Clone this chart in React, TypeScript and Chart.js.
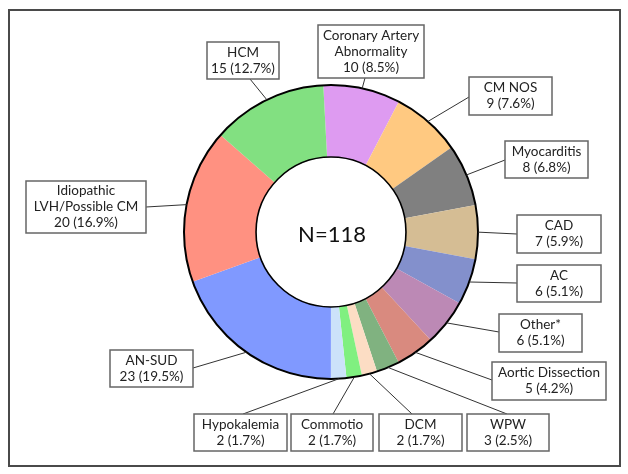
import React, { useEffect, useRef } from "react";
import { Chart, registerables } from "chart.js";

Chart.register(...registerables);

// ---- data ----
const categories: string[] = [
  "Coronary Artery\nAbnormality",
  "CM NOS",
  "Myocarditis",
  "CAD",
  "AC",
  "Other*",
  "Aortic Dissection",
  "WPW",
  "DCM",
  "Commotio",
  "Hypokalemia",
  "AN-SUD",
  "Idiopathic\nLVH/Possible CM",
  "HCM",
];
const counts: number[] = [10, 9, 8, 7, 6, 6, 5, 3, 2, 2, 2, 23, 20, 15];
const centerLabel = "N=118";

// ---- styles / layout ----
const colors: string[] = [
  "#DE9BF1",
  "#FFC981",
  "#808080",
  "#D5BD94",
  "#8390CC",
  "#BC89B5",
  "#D98A7F",
  "#80B280",
  "#FCDDC4",
  "#80F080",
  "#CCE2FA",
  "#8099FF",
  "#FF9181",
  "#82E081",
];
// label boxes: [x, y, w, h, anchorX, anchorY]
const boxes: number[][] = [
  [318, 25, 106, 53, 365, 78],
  [469, 77, 83, 38, 469, 97],
  [505, 141, 83, 37, 505, 160],
  [517, 215, 84, 38, 517, 234],
  [517, 265, 84, 37, 517, 283],
  [499, 314, 83, 38, 499, 332],
  [492, 362, 114, 38, 492, 380],
  [467, 414, 82, 37, 507, 414],
  [379, 414, 83, 37, 412, 414],
  [291, 414, 82, 37, 333, 414],
  [194, 414, 93, 37, 243, 414],
  [110, 350, 83, 37, 193, 368],
  [26, 181, 120, 52, 146, 207],
  [207, 42, 72, 37, 250, 79],
];

const FONT = "Lato, 'Noto Sans', sans-serif";

export default function App() {
  const ref = useRef<HTMLCanvasElement | null>(null);

  useEffect(() => {
    document.body.style.margin = "0";
    const canvas = ref.current;
    if (!canvas) return;
    const total = counts.reduce((a, b) => a + b, 0);

    const overlay = {
      id: "overlay",
      beforeDraw(chart: any) {
        const ctx = chart.ctx;
        ctx.save();
        ctx.fillStyle = "#ffffff";
        ctx.fillRect(0, 0, chart.width, chart.height);
        ctx.restore();
      },
      afterDatasetsDraw(chart: any) {
        const ctx = chart.ctx;
        const meta = chart.getDatasetMeta(0);
        const arcs = meta.data;
        if (!arcs.length) return;
        const a0 = arcs[0].getProps(["x", "y", "outerRadius", "innerRadius"], true);
        ctx.save();
        // outer & inner rings
        ctx.strokeStyle = "#000";
        ctx.lineWidth = 2;
        ctx.beginPath();
        ctx.arc(a0.x, a0.y, a0.outerRadius, 0, Math.PI * 2);
        ctx.stroke();
        ctx.lineWidth = 1.6;
        ctx.beginPath();
        ctx.arc(a0.x, a0.y, a0.innerRadius, 0, Math.PI * 2);
        ctx.stroke();

        // center text
        ctx.fillStyle = "#111";
        ctx.font = `22px ${FONT}`;
        ctx.textAlign = "center";
        ctx.textBaseline = "middle";
        ctx.fillText(centerLabel, a0.x + 1, a0.y + 3);

        // leaders
        ctx.strokeStyle = "#333";
        ctx.lineWidth = 1;
        arcs.forEach((arc: any, i: number) => {
          const p = arc.getProps(["x", "y", "startAngle", "endAngle", "outerRadius"], true);
          const mid = (p.startAngle + p.endAngle) / 2;
          const sx = p.x + Math.cos(mid) * p.outerRadius;
          const sy = p.y + Math.sin(mid) * p.outerRadius;
          const b = boxes[i];
          ctx.beginPath();
          ctx.moveTo(sx, sy);
          ctx.lineTo(b[4], b[5]);
          ctx.stroke();
        });

        // boxes
        arcs.forEach((_arc: any, i: number) => {
          const b = boxes[i];
          ctx.fillStyle = "#fff";
          ctx.fillRect(b[0], b[1], b[2], b[3]);
          ctx.strokeStyle = "#666";
          ctx.lineWidth = 1.5;
          ctx.strokeRect(b[0], b[1], b[2], b[3]);
          const pct = ((counts[i] / total) * 100).toFixed(1);
          const lines = categories[i].split("\n").concat([`${counts[i]} (${pct}%)`]);
          ctx.fillStyle = "#222";
          ctx.font = `13.5px ${FONT}`;
          ctx.textAlign = "center";
          ctx.textBaseline = "middle";
          const lh = 16;
          const cx = b[0] + b[2] / 2;
          const cy = b[1] + b[3] / 2;
          lines.forEach((t, k) => {
            ctx.fillText(t, cx, cy + (k - (lines.length - 1) / 2) * lh);
          });
        });

        // frame
        ctx.strokeStyle = "#4a4a4a";
        ctx.lineWidth = 2;
        ctx.strokeRect(9, 10, 611, 456);
        ctx.restore();
      },
    };

    const chart = new Chart(canvas, {
      type: "doughnut",
      data: {
        labels: categories,
        datasets: [
          {
            data: counts,
            backgroundColor: colors,
            borderWidth: 0,
          },
        ],
      },
      options: {
        responsive: false,
        animation: false,
        rotation: -3,
        cutout: "51%",
        layout: { padding: { top: 85, bottom: 95, left: 184, right: 150 } },
        plugins: {
          legend: { display: false },
          tooltip: { enabled: false },
        },
      },
      plugins: [overlay],
    });
    return () => chart.destroy();
  }, []);

  return (
    <div style={{ position: "absolute", left: 0, top: 0 }}>
      <canvas ref={ref} width={628} height={474} style={{ display: "block", width: 628, height: 474 }} />
    </div>
  );
}
